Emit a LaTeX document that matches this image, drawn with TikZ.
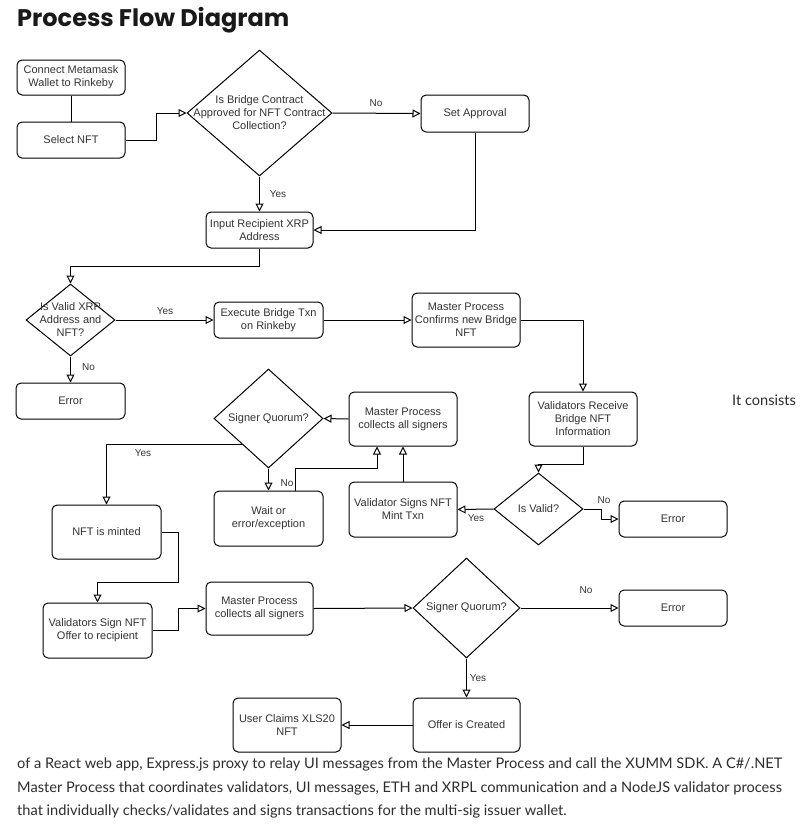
\documentclass[tikz,border=0pt]{standalone}
\usepackage{fontspec}
\setmainfont{Liberation Sans}
\newfontfamily\titlefont{Poppins}
\newfontfamily\parafont{Lato}
\usetikzlibrary{arrows.meta,shapes.geometric}
\definecolor{txt}{HTML}{333333}
\definecolor{para}{HTML}{2E2E2E}
\begin{document}
\begin{tikzpicture}[x=1pt,y=-1pt,
 box/.style={draw=black, line width=1pt, rounded corners=5pt, align=center, inner sep=0pt, font=\fontsize{11}{13}\selectfont, text=txt},
 dia/.style={draw=black, diamond, inner sep=0pt, line width=1pt},
 dtext/.style={align=center, font=\fontsize{11}{13}\selectfont, text=txt, inner sep=0pt},
 arr/.style={-{Triangle[open,length=8pt,width=8pt]}, line width=1pt},
 ln/.style={line width=1pt},
 lbl/.style={font=\fontsize{10}{12}\selectfont, text=txt, inner sep=0pt},
 ptext/.style={anchor=base west, inner sep=0pt, font=\parafont\fontsize{14.6}{17}\selectfont, text=para}]
\useasboundingbox[fill=white] (0,0) rectangle (809,828);

% title
\node[anchor=base west, inner sep=0pt, font=\titlefont\bfseries\fontsize{24}{28}\selectfont, text=black!90] (title) at (17,26) {Process Flow Diagram};

% boxes
\node[box, minimum width=108pt, minimum height=35pt] (c1) at (71,77.5) {Connect Metamask\\Wallet to Rinkeby};
\node[box, minimum width=108pt, minimum height=36pt] (c2) at (71,140) {Select NFT};
\node[dia, minimum width=145pt, minimum height=126pt] (d1) at (259.5,113) {};
\node[dtext] (d1t) at (d1) {Is Bridge Contract\\Approved for NFT Contract\\Collection?};
\node[box, minimum width=108pt, minimum height=37pt] (c3) at (475,113.5) {Set Approval};
\node[box, minimum width=107pt, minimum height=36pt] (c4) at (259.5,230) {Input Recipient XRP\\Address};
\node[dia, minimum width=89pt, minimum height=72pt] (d2) at (70.5,320) {};
\node[dtext] (d2t) at (d2) {Is Valid XRP\\Address and\\NFT?};
\node[box, minimum width=109pt, minimum height=36pt] (c5) at (70.5,401) {Error};
\node[box, minimum width=109pt, minimum height=36pt] (c6) at (268.5,320) {Execute Bridge Txn\\on Rinkeby};
\node[box, minimum width=108pt, minimum height=54pt] (c7) at (466,320) {Master Process\\Confirms new Bridge\\NFT};
\node[box, minimum width=108pt, minimum height=54pt] (c8) at (583,419) {Validators Receive\\Bridge NFT\\Information};
\node[dia, minimum width=89pt, minimum height=72pt] (d3) at (538.5,509) {};
\node[dtext] (d3t) at (d3) {Is Valid?};
\node[box, minimum width=108pt, minimum height=36pt] (c9) at (673,519) {Error};
\node[box, minimum width=108pt, minimum height=55pt] (c10) at (403,509.5) {Validator Signs NFT\\Mint Txn};
\node[box, minimum width=108pt, minimum height=54pt] (c11) at (403,419) {Master Process\\collects all signers};
\node[dia, minimum width=109pt, minimum height=99pt] (d4) at (268.5,418.5) {};
\node[dtext] (d4t) at (d4) {Signer Quorum?};
\node[box, minimum width=109pt, minimum height=55pt] (c12) at (268.5,518.5) {Wait or\\error/exception};
\node[box, minimum width=109pt, minimum height=54pt] (c13) at (106.5,532) {NFT is minted};
\node[box, minimum width=109pt, minimum height=55pt] (c14) at (97.5,630.5) {Validators Sign NFT\\Offer to recipient};
\node[box, minimum width=107pt, minimum height=53pt] (c15) at (259.5,608.5) {Master Process\\collects all signers};
\node[dia, minimum width=107pt, minimum height=100pt] (d5) at (466.5,608) {};
\node[dtext] (d5t) at (d5) {Signer Quorum?};
\node[box, minimum width=108pt, minimum height=36pt] (c16) at (673,608) {Error};
\node[box, minimum width=107pt, minimum height=54pt] (c17) at (466.5,725) {Offer is Created};
\node[box, minimum width=108pt, minimum height=54pt] (c18) at (287,725) {User Claims XLS20\\NFT};

% connectors
\draw[ln] (c1.south) -- (c2.north);
\draw[arr] (c2.east) -- ++(31,0) |- (d1.west);
\draw[arr] (d1.east) -- (c3.west);
\draw[arr] (c3.south) |- (c4.east);
\draw[arr] (d1.south) -- (c4.north);
\draw[arr] (c4.south) -- ++(0,18) -| (d2.north);
\draw[arr] (d2.east) -- (c6.west);
\draw[arr] (d2.south) -- (c5.north);
\draw[arr] (c6.east) -- (c7.west);
\draw[arr] (c7.east) -| (c8.north);
\draw[arr] (c8.south) -- ++(0,18) -| (d3.north);
\draw[arr] (d3.west) -- (c10.east);
\draw[arr] (d3.east) -- ++(18,0) |- (c9.west);
\draw[arr] (c10.north) -- (c11.south);
\draw[arr] (c11.west) -- (d4.east);
\draw[arr] (d4.south) -- (c12.north);
\draw[arr] ([xshift=26.5pt]c12.north) -- ++(0,-22) -| ([xshift=-26pt]c11.south);
\draw[arr] (d4.225) -| (c13.north);
\draw[arr] (c13.east) -- ++(17,0) -- ++(0,50) -| (c14.north);
\draw[arr] (c14.east) -- ++(26,0) |- (c15.west);
\draw[arr] (c15.east) -- (d5.west);
\draw[arr] (d5.east) -- (c16.west);
\draw[arr] (d5.south) -- (c17.north);
\draw[arr] (c17.west) -- (c18.east);

% edge labels
\node[lbl] (l1) at (376,103.5) {No};
\node[lbl] (l2) at (278,194) {Yes};
\node[lbl] (l3) at (165,311.5) {Yes};
\node[lbl] (l4) at (88.5,367) {No};
\node[lbl] (l5) at (143,453) {Yes};
\node[lbl] (l6) at (287,483.5) {No};
\node[lbl] (l7) at (476,518) {Yes};
\node[lbl] (l8) at (604,500) {No};
\node[lbl] (l9) at (586,590) {No};
\node[lbl] (l10) at (478,678) {Yes};

% page text
\node[ptext] (p0) at (732,405) {It consists};
\node[ptext] (p1) at (17,768) {of a React web app, Express.js proxy to relay UI messages from the Master Process and call the XUMM SDK. A C\#/.NET};
\node[ptext] (p2) at (17,792) {Master Process that coordinates validators, UI messages, ETH and XRPL communication and a NodeJS validator process};
\node[ptext] (p3) at (17,815) {that individually checks/validates and signs transactions for the multi-sig issuer wallet.};
\end{tikzpicture}
\end{document}
